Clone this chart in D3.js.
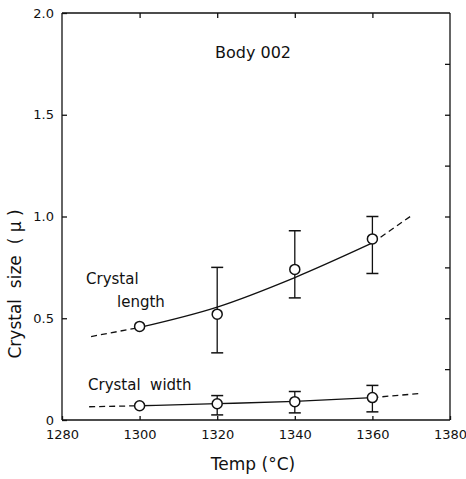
<!DOCTYPE html>
<meta charset="utf-8">
<style>
body { margin: 0; background: #fff; }
text { font-family: "DejaVu Sans", sans-serif; fill: #111; white-space: pre; }
.axis path, .axis line { stroke: #111; stroke-width: 1.3; }
.axis text { font-size: 13px; }
</style>
<body>
<script src="https://cdn.jsdelivr.net/npm/d3@7"></script>
<script>

// measured points (temp in °C, size in microns)
var temps = [1300, 1320, 1340, 1360];
var lengthVals = [0.46, 0.52, 0.74, 0.89];
var lengthLo = [null, 0.33, 0.60, 0.72];
var lengthHi = [null, 0.75, 0.93, 1.00];
var widthVals = [0.07, 0.08, 0.09, 0.11];
var widthLo = [null, 0.025, 0.035, 0.04];
var widthHi = [null, 0.12, 0.14, 0.17];

// hand-drawn trend curves
var lengthFitT = [1287.5, 1300, 1320, 1340, 1360, 1370.5];
var lengthFitV = [0.41, 0.455, 0.555, 0.70, 0.87, 1.01];
var widthFitT = [1287, 1300, 1320, 1340, 1360, 1372];
var widthFitV = [0.065, 0.07, 0.08, 0.092, 0.11, 0.13];

var xTicks = [1280, 1300, 1320, 1340, 1360, 1380];
var yTicks = [0, 0.5, 1.0, 1.5, 2.0];
var yTickLabels = ["0", "0.5", "1.0", "1.5", "2.0"];

var width = 466, height = 479;
var plotL = 62, plotR = 450, plotT = 13, plotB = 420;

var svg = d3.select("body").append("svg")
    .attr("width", width)
    .attr("height", height);

var x = d3.scaleLinear().domain([1280, 1380]).range([plotL, plotR]);
var y = d3.scaleLinear().domain([0, 2.0]).range([plotB, plotT]);

// axes: ticks point inward
svg.append("g").attr("class", "axis")
    .attr("transform", "translate(0," + plotB + ")")
    .call(d3.axisBottom(x).tickValues(xTicks).tickSize(-4).tickPadding(10)
      .tickFormat(d3.format("d")))
    .call(function(g) { g.select(".domain").attr("d", "M" + plotL + ",0H" + plotR); });

svg.append("g").attr("class", "axis")
    .attr("transform", "translate(" + plotL + ",0)")
    .call(d3.axisLeft(y).tickValues(yTicks).tickSize(-5).tickPadding(8)
      .tickFormat(function(d, i) { return yTickLabels[i]; }))
    .call(function(g) { g.select(".domain").attr("d", "M0," + plotB + "V" + plotT); });

svg.append("g").attr("class", "axis")
    .attr("transform", "translate(0," + plotT + ")")
    .call(d3.axisTop(x).tickValues(temps).tickSize(-5).tickFormat(""))
    .call(function(g) { g.select(".domain").attr("d", "M" + plotL + ",0H" + plotR); });

svg.append("g").attr("class", "axis")
    .attr("transform", "translate(" + plotR + ",0)")
    .call(d3.axisRight(y).tickValues(d3.range(0.25, 2.0, 0.25)).tickSize(-5).tickFormat(""))
    .call(function(g) { g.select(".domain").attr("d", "M0," + plotB + "V" + plotT); });

// trend curves, solid inside the data range, dashed outside
var line = d3.line()
    .x(function(d) { return x(d[0]); })
    .y(function(d) { return y(d[1]); })
    .curve(d3.curveMonotoneX);

function drawFit(ts, vs) {
  var pts = ts.map(function(t, i) { return [t, vs[i]]; });
  var n = pts.length;
  svg.append("path").datum(pts.slice(0, 2))
      .attr("d", line).attr("fill", "none").attr("stroke", "#111")
      .attr("stroke-width", 1.3).attr("stroke-dasharray", "6,4");
  svg.append("path").datum(pts.slice(1, n - 1))
      .attr("d", line).attr("fill", "none").attr("stroke", "#111")
      .attr("stroke-width", 1.3);
  svg.append("path").datum(pts.slice(n - 2))
      .attr("d", line).attr("fill", "none").attr("stroke", "#111")
      .attr("stroke-width", 1.3).attr("stroke-dasharray", "6,4");
}
drawFit(lengthFitT, lengthFitV);
drawFit(widthFitT, widthFitV);

// error bars and points
function drawSeries(vals, lo, hi) {
  var g = svg.append("g");
  temps.forEach(function(t, i) {
    if (lo[i] != null) {
      g.append("line")
          .attr("x1", x(t)).attr("x2", x(t))
          .attr("y1", y(lo[i])).attr("y2", y(hi[i]))
          .attr("stroke", "#111").attr("stroke-width", 1.3);
      [lo[i], hi[i]].forEach(function(v) {
        g.append("line")
            .attr("x1", x(t) - 6).attr("x2", x(t) + 6)
            .attr("y1", y(v)).attr("y2", y(v))
            .attr("stroke", "#111").attr("stroke-width", 1.5);
      });
    }
  });
  g.selectAll("circle").data(vals).enter().append("circle")
      .attr("cx", function(d, i) { return x(temps[i]); })
      .attr("cy", function(d) { return y(d); })
      .attr("r", 5)
      .attr("fill", "#fff").attr("stroke", "#111").attr("stroke-width", 1.5);
}
drawSeries(lengthVals, lengthLo, lengthHi);
drawSeries(widthVals, widthLo, widthHi);

// labels
svg.append("text").attr("x", 253).attr("y", 58)
    .attr("text-anchor", "middle").style("font-size", "16px").text("Body 002");

svg.append("text").attr("x", 86).attr("y", 284)
    .style("font-size", "15px").text("Crystal");
svg.append("text").attr("x", 117).attr("y", 307)
    .style("font-size", "15px").text("length");
svg.append("text").attr("x", 88).attr("y", 390)
    .style("font-size", "15px").text("Crystal  width");

svg.append("text").attr("x", 253).attr("y", 470)
    .attr("text-anchor", "middle").style("font-size", "17px").text("Temp (°C)");

svg.append("text")
    .attr("transform", "translate(21,284) rotate(-90)")
    .attr("text-anchor", "middle").style("font-size", "17px").text("Crystal  size  ( μ )");

</script>
</body>
